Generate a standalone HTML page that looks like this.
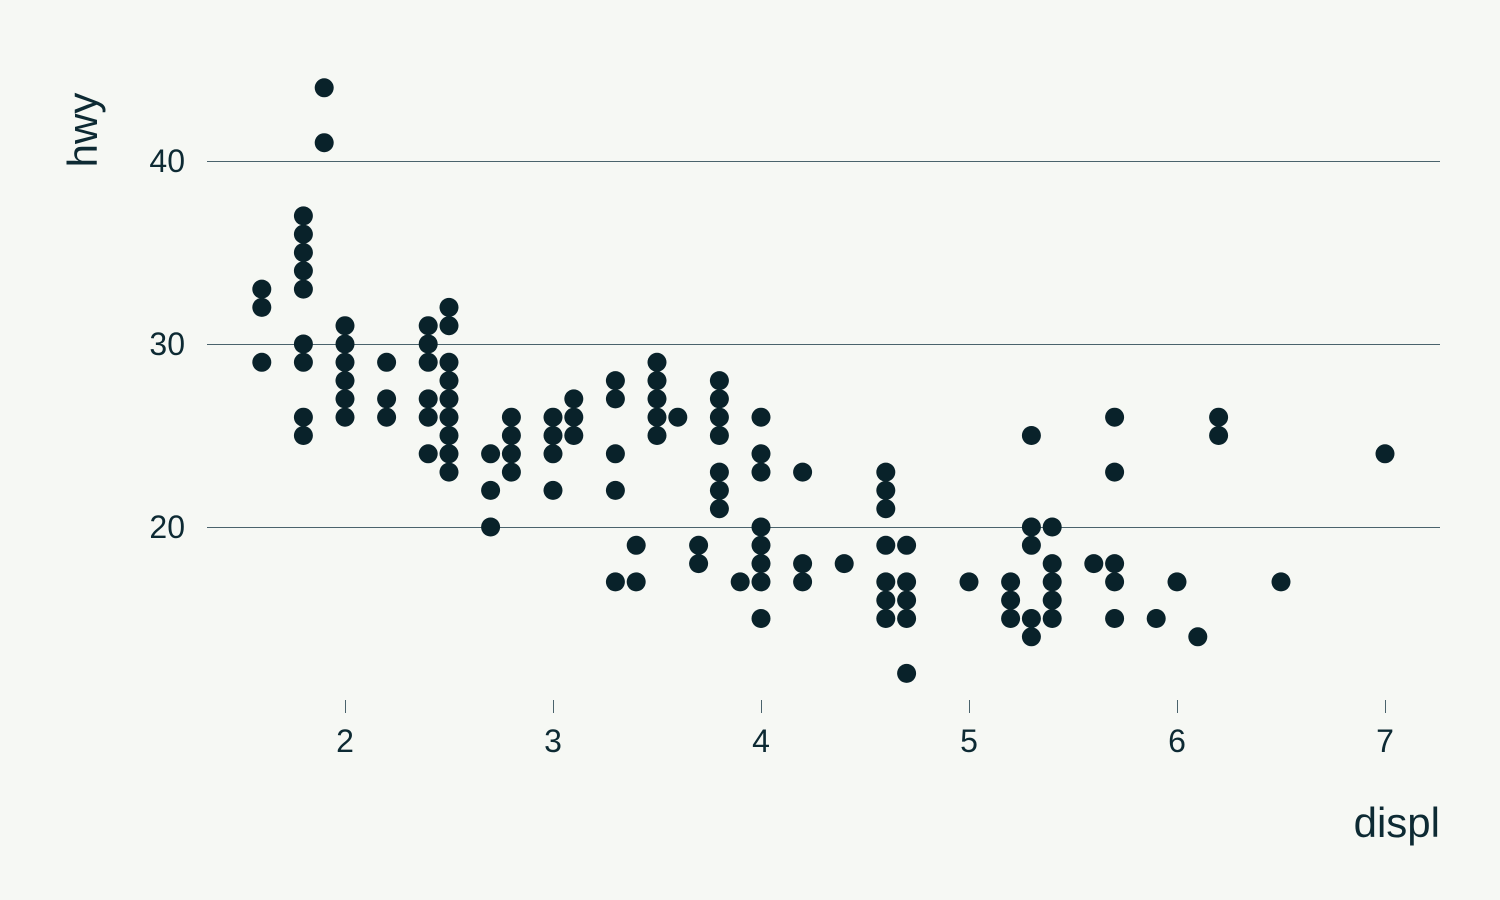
<!DOCTYPE html>
<html><head><meta charset="utf-8"><style>
html,body{margin:0;padding:0;background:#f6f8f4;}
svg{display:block;font-family:"Liberation Sans",sans-serif;}
</style></head><body>
<svg id="chart" width="1500" height="900" viewBox="0 0 1500 900">
<rect width="1500" height="900" fill="#f6f8f4"/>
<g id="grid"></g><g id="ticks"></g><g id="points"></g>
<text x="97" y="130" transform="rotate(-90 97 130)" text-anchor="middle" font-size="42" fill="#0d2a33">hwy</text>
<text x="1440" y="837" text-anchor="end" font-size="42" fill="#0d2a33">displ</text>
</svg>
<script>
const xTicks=[2,3,4,5,6,7];
const yTicks=[20,30,40];
const displ=[1.6,1.6,1.6,1.8,1.8,1.8,1.8,1.8,1.8,1.8,1.8,1.8,1.9,1.9,2.0,2.0,2.0,2.0,2.0,2.0,2.2,2.2,2.2,2.4,2.4,2.4,2.4,2.4,2.4,2.5,2.5,2.5,2.5,2.5,2.5,2.5,2.5,2.5,2.7,2.7,2.7,2.8,2.8,2.8,2.8,3.0,3.0,3.0,3.0,3.1,3.1,3.1,3.3,3.3,3.3,3.3,3.3,3.4,3.4,3.5,3.5,3.5,3.5,3.5,3.6,3.7,3.7,3.8,3.8,3.8,3.8,3.8,3.8,3.8,3.9,4.0,4.0,4.0,4.0,4.0,4.0,4.0,4.0,4.2,4.2,4.2,4.4,4.6,4.6,4.6,4.6,4.6,4.6,4.6,4.7,4.7,4.7,4.7,4.7,5.0,5.2,5.2,5.2,5.3,5.3,5.3,5.3,5.3,5.4,5.4,5.4,5.4,5.4,5.6,5.7,5.7,5.7,5.7,5.7,5.9,6.0,6.1,6.2,6.2,6.5,7.0];
const hwy=[33,32,29,37,36,35,34,33,30,29,26,25,44,41,31,30,29,28,27,26,29,27,26,31,30,29,27,26,24,32,31,29,28,27,26,25,24,23,24,22,20,26,25,24,23,26,25,24,22,27,26,25,28,27,24,22,17,19,17,29,28,27,26,25,26,19,18,28,27,26,25,23,22,21,17,26,24,23,20,19,18,17,15,23,18,17,18,23,22,21,19,17,16,15,19,17,16,15,12,17,17,16,15,25,20,19,15,14,20,18,17,16,15,18,26,23,18,17,15,15,17,14,26,25,17,24];
const NS='http://www.w3.org/2000/svg';
const xs=d=>345+(d-2)*208;
const ys=h=>527-(h-20)*18.3;
const grid=document.getElementById('grid'),ticks=document.getElementById('ticks'),pts=document.getElementById('points');
yTicks.forEach(t=>{
 const l=document.createElementNS(NS,'line');
 const yy=Math.round(ys(t))+0.5;
 l.setAttribute('x1',207);l.setAttribute('x2',1440);l.setAttribute('y1',yy);l.setAttribute('y2',yy);
 l.setAttribute('stroke','#4a636c');l.setAttribute('stroke-width','1');
 
 
 grid.appendChild(l);
 const tx=document.createElementNS(NS,'text');
 tx.setAttribute('x',185);tx.setAttribute('y',ys(t)+11);tx.setAttribute('text-anchor','end');
 tx.setAttribute('font-size','32');tx.setAttribute('fill','#0d2a33');tx.textContent=t;
 
 
 ticks.appendChild(tx);
});
xTicks.forEach(t=>{
 const l=document.createElementNS(NS,'line');
 const xx=Math.round(xs(t))+0.5;
 l.setAttribute('x1',xx);l.setAttribute('x2',xx);l.setAttribute('y1',700);l.setAttribute('y2',713);
 l.setAttribute('stroke','#4a636c');l.setAttribute('stroke-width','1');
 
 
 ticks.appendChild(l);
 const tx=document.createElementNS(NS,'text');
 tx.setAttribute('x',xs(t));tx.setAttribute('y',752);tx.setAttribute('text-anchor','middle');
 tx.setAttribute('font-size','32');tx.setAttribute('fill','#0d2a33');tx.textContent=t;
 
 
 ticks.appendChild(tx);
});
displ.forEach((d,i)=>{
 const c=document.createElementNS(NS,'circle');
 c.setAttribute('cx',xs(d));c.setAttribute('cy',ys(hwy[i]));c.setAttribute('r',9.5);
 c.setAttribute('fill','#09222a');
 
 
 pts.appendChild(c);
});
</script>
</body></html>
